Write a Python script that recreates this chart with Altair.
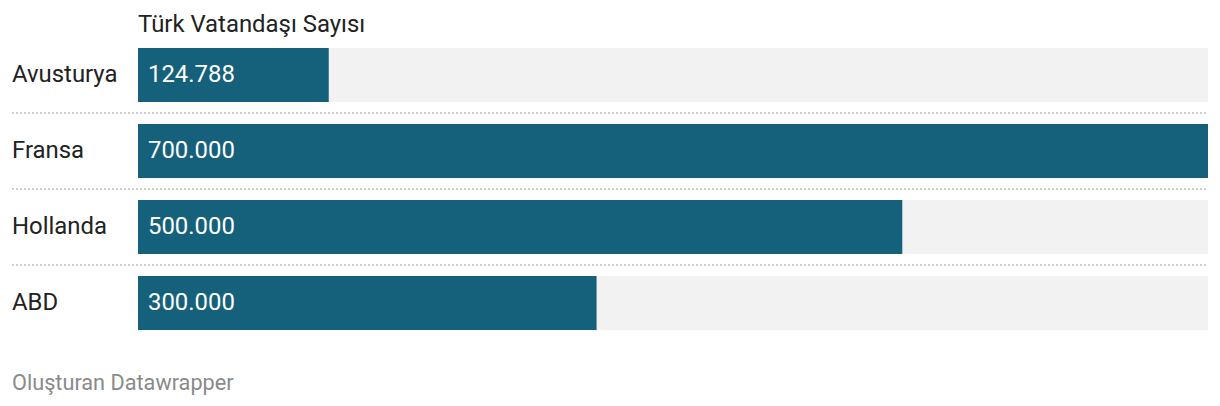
import altair as alt
import pandas as pd

countries = ["Avusturya", "Fransa", "Hollanda", "ABD"]
values = [124788, 700000, 500000, 300000]
title_text = "Türk Vatandaşı Sayısı"
footer_text = "Oluşturan Datawrapper"

df = pd.DataFrame({"country": countries, "value": values})
sep_df = pd.DataFrame({"country": countries[:-1]})
footer_df = pd.DataFrame({"t": [footer_text]})
title_df = pd.DataFrame({"t": [title_text]})

FONT = "Roboto"
FS = 23.9
W, H = 1070, 282

y_enc = alt.Y("country:N", sort=countries, axis=None,
              scale=alt.Scale(paddingInner=22 / 76, paddingOuter=0))

base = alt.Chart(df).transform_joinaggregate(vmax="max(value)")

bg = base.mark_bar(color="#f2f2f2").encode(
    x=alt.X("vmax:Q", axis=None, scale=alt.Scale(domain=[0, 700000], nice=False)),
    y=y_enc,
)

bars = base.mark_bar(color="#15607a").encode(
    x=alt.X("value:Q", axis=None, scale=alt.Scale(domain=[0, 700000], nice=False)),
    y=y_enc,
)

vals = base.transform_calculate(
    lab="replace(format(datum.value, ','), ',', '.')"
).mark_text(align="left", baseline="middle", font=FONT, fontSize=FS,
            color="white").encode(
    x=alt.value(10),
    y=alt.Y("country:N", sort=countries, axis=None),
    text="lab:N",
)

names = base.mark_text(align="left", baseline="middle", font=FONT, fontSize=FS,
                       color="#222222").encode(
    x=alt.value(-126),
    y=alt.Y("country:N", sort=countries, axis=None),
    text="country:N",
)

seps = alt.Chart(sep_df).mark_rule(color="#cfcfcf", strokeWidth=2,
                                   strokeDash=[2, 2], yOffset=11).encode(
    x=alt.value(-126),
    x2=alt.value(W),
    y=alt.Y("country:N", sort=countries, axis=None, bandPosition=1),
)

title = alt.Chart(title_df).mark_text(align="left", baseline="alphabetic",
                                      font=FONT, fontSize=FS,
                                      color="#222222").encode(
    x=alt.value(0),
    y=alt.value(-16),
    text="t:N",
)

footer = alt.Chart(footer_df).mark_text(align="left", baseline="alphabetic",
                                        font=FONT, fontSize=21.7,
                                        color="#8a8a8a").encode(
    x=alt.value(-126),
    y=alt.value(342),
    text="t:N",
)

chart = alt.layer(bg, bars, seps, vals, names, title, footer).properties(
    width=W,
    height=H,
    padding={"left": 130, "top": 40, "right": 4, "bottom": 76},
    autosize=alt.AutoSizeParams(type="none"),
).configure(background="white").configure_view(stroke=None, strokeWidth=0)

chart.save("out.html", embed_options={"renderer": "svg", "actions": False})
